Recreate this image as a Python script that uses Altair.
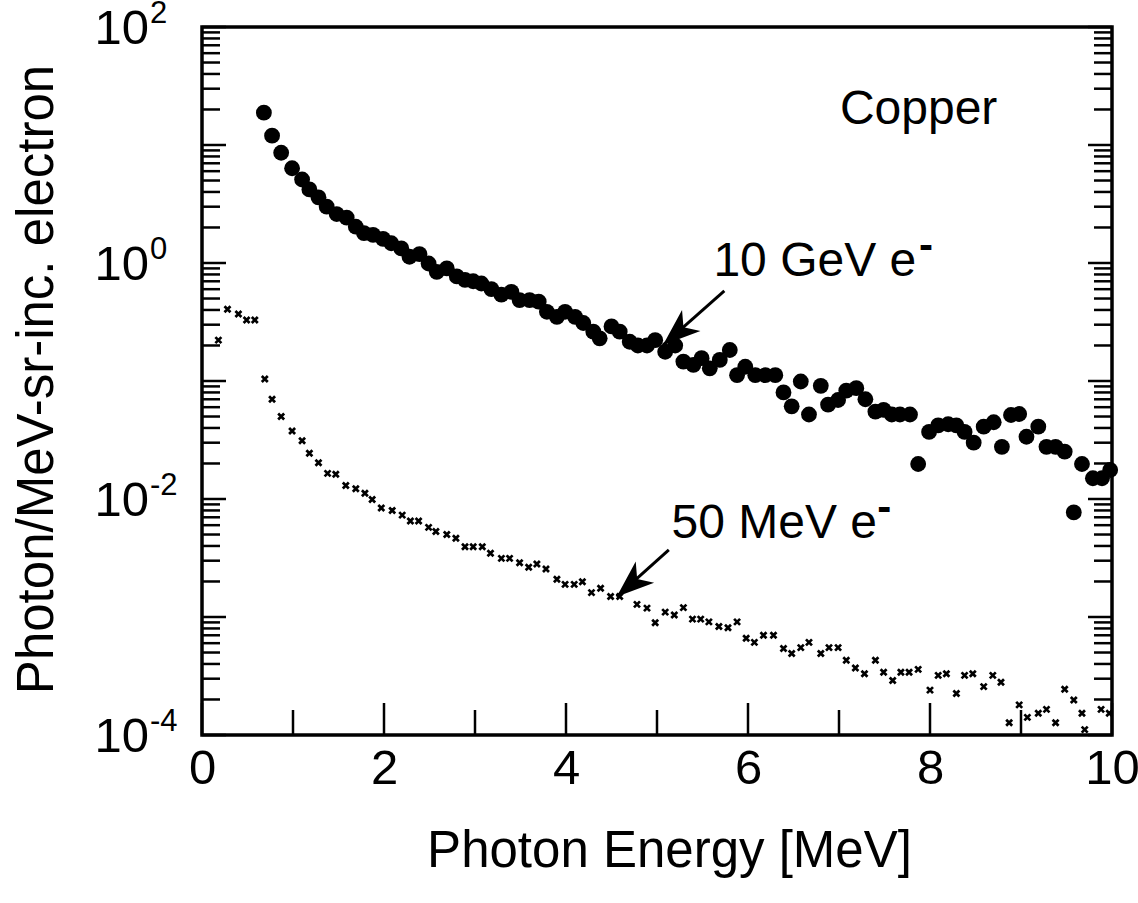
import altair as alt
import pandas as pd

# ---------------- data ----------------
e10_x = [0.68, 0.77, 0.87, 0.99, 1.10, 1.18, 1.28, 1.37, 1.48, 1.59, 1.69, 1.78, 1.88, 1.99,
         2.08, 2.19, 2.28, 2.39, 2.49, 2.58, 2.69, 2.80, 2.89, 2.98, 3.07, 3.18, 3.29, 3.40,
         3.49, 3.60, 3.70, 3.79, 3.90, 3.99, 4.10, 4.19, 4.30, 4.37, 4.50, 4.59, 4.70, 4.79,
         4.89, 4.98, 5.09, 5.20, 5.29, 5.40, 5.49, 5.58, 5.69, 5.80, 5.88, 5.97, 6.08, 6.19,
         6.30, 6.39, 6.48, 6.58, 6.67, 6.80, 6.88, 6.99, 7.08, 7.19, 7.29, 7.40, 7.49, 7.58,
         7.67, 7.78, 7.87, 7.99, 8.09, 8.20, 8.29, 8.38, 8.48, 8.59, 8.70, 8.79, 8.89, 8.98,
         9.06, 9.19, 9.28, 9.38, 9.48, 9.58, 9.67, 9.79, 9.89, 9.98]
e10_y = [18.8, 12.0, 8.6, 6.35, 5.1, 4.2, 3.6, 3.0, 2.6, 2.42, 2.03, 1.79, 1.73, 1.60,
         1.47, 1.33, 1.13, 1.19, 0.99, 0.84, 0.90, 0.77, 0.72, 0.70, 0.67, 0.60, 0.54, 0.57,
         0.485, 0.485, 0.47, 0.386, 0.35, 0.386, 0.35, 0.31, 0.262, 0.23, 0.29, 0.262, 0.215, 0.20,
         0.20, 0.222, 0.177, 0.20, 0.146, 0.137, 0.156, 0.128, 0.151, 0.183, 0.112, 0.132, 0.112, 0.112,
         0.112, 0.080, 0.061, 0.099, 0.052, 0.091, 0.063, 0.069, 0.083, 0.087, 0.070, 0.055, 0.057, 0.052,
         0.052, 0.052, 0.0198, 0.037, 0.042, 0.043, 0.042, 0.037, 0.030, 0.041, 0.0447, 0.0277, 0.0515, 0.0525,
         0.0337, 0.041, 0.0277, 0.0277, 0.0252, 0.0077, 0.0198, 0.015, 0.015, 0.0176]

e50_x = [0.18, 0.28, 0.40, 0.49, 0.58, 0.69, 0.77, 0.87, 0.99, 1.10, 1.18, 1.28, 1.38, 1.47,
         1.58, 1.69, 1.79, 1.87, 1.97, 2.09, 2.20, 2.29, 2.38, 2.49, 2.57, 2.69, 2.79, 2.89,
         2.98, 3.08, 3.17, 3.29, 3.38, 3.49, 3.59, 3.68, 3.78, 3.90, 3.99, 4.09, 4.18, 4.28,
         4.38, 4.49, 4.59, 4.78, 4.89, 4.98, 5.09, 5.19, 5.29, 5.39, 5.48, 5.57, 5.68, 5.78,
         5.88, 5.98, 6.07, 6.17, 6.28, 6.39, 6.48, 6.58, 6.67, 6.80, 6.89, 6.99, 7.08, 7.18,
         7.28, 7.40, 7.49, 7.59, 7.68, 7.77, 7.87, 8.00, 8.09, 8.18, 8.29, 8.38, 8.47, 8.59,
         8.69, 8.78, 8.87, 8.98, 9.07, 9.19, 9.28, 9.38, 9.48, 9.58, 9.67, 9.70, 9.88, 9.97]
e50_y = [0.222, 0.405, 0.37, 0.329, 0.329, 0.104, 0.070, 0.050, 0.0377, 0.0312, 0.0244, 0.0203, 0.0165, 0.0162,
         0.0130, 0.0122, 0.0112, 0.0099, 0.0084, 0.0080, 0.0073, 0.0065, 0.0065, 0.00575, 0.0053, 0.0050, 0.00465, 0.00394,
         0.00394, 0.00394, 0.00347, 0.00314, 0.00314, 0.00288, 0.00264, 0.00281, 0.00255, 0.00209, 0.00189, 0.00189, 0.00199, 0.00161,
         0.00175, 0.00149, 0.00149, 0.00128, 0.00119, 0.000895, 0.0011, 0.00104, 0.0012, 0.00096, 0.00096, 0.00091, 0.00083, 0.00081,
         0.00091, 0.00066, 0.00061, 0.0007, 0.0007, 0.00054, 0.00049, 0.00055, 0.00061, 0.00049, 0.00055, 0.00055, 0.00043, 0.00037,
         0.00033, 0.00043, 0.00034, 0.00029, 0.00034, 0.00034, 0.00036, 0.00024, 0.00032, 0.00033, 0.000225, 0.00032, 0.00033, 0.000257,
         0.00032, 0.00028, 0.000127, 0.00018, 0.000141, 0.000153, 0.000165, 0.000127, 0.000244, 0.000198, 0.000153, 0.000111, 0.000165, 0.000153]

# axis ticks
x_major = [0, 2, 4, 6, 8, 10]
x_minor = [1, 3, 5, 7, 9]
y_decades = [1e-4, 1e-3, 1e-2, 1e-1, 1, 10, 100]
y_minor_mult = [2, 3, 4, 5, 6, 7, 8, 9]
y_label_vals = [100, 1, 0.01, 0.0001]
y_label_exp = ["2", "0", "-2", "-4"]

# annotations
ann_text = ["Copper", "10 GeV e", "50 MeV e"]
ann_x = [7.01, 5.62, 5.16]
ann_y = [19.8, 1.02, 0.00614]
sup_text = ["-", "-"]
sup_x = [7.88, 7.42]
sup_y = [1.40, 0.0084]
arrow_x = [5.74, 5.13]
arrow_y = [0.58, 0.0037]
arrow_x2 = [5.066, 4.557]
arrow_y2 = [0.2018, 0.001486]

# ---------------- chart ----------------
W, H = 910, 708
FONT = "Liberation Sans"
FS_TICK = 49
FS_TITLE = 51
FS_ANN = 48

df10 = pd.DataFrame({"x": e10_x, "y": e10_y})
df50 = pd.DataFrame({"x": e50_x, "y": e50_y})
y_minor_vals = [d * m for d in y_decades[:-1] for m in y_minor_mult]
df_ymaj = pd.DataFrame({"v": y_decades})
df_ymin = pd.DataFrame({"v": y_minor_vals})
df_xmaj = pd.DataFrame({"v": x_major})
df_xmin = pd.DataFrame({"v": x_minor})
df_ylab = pd.DataFrame({"v": y_label_vals, "e": y_label_exp})
df_ann = pd.DataFrame({"x": ann_x, "y": ann_y, "t": ann_text})
df_sup = pd.DataFrame({"x": sup_x, "y": sup_y, "t": sup_text})
df_arr = pd.DataFrame({"x": arrow_x, "y": arrow_y, "x2": arrow_x2, "y2": arrow_y2})

xs = alt.Scale(domain=[0, 10], nice=False, zero=False)
ys = alt.Scale(type="log", domain=[1e-4, 100], nice=False)

x_axis = alt.Axis(values=x_major, format="d", ticks=False, domain=False, grid=False,
                  labelFontSize=FS_TICK, labelFont=FONT, labelColor="black", labelPadding=9,
                  labelFlush=False, labelOverlap=False,
                  title="Photon Energy [MeV]", titleFontSize=FS_TITLE, titleFont=FONT,
                  titleFontWeight="normal", titleColor="black",
                  titleX=W / 2 + 12, titleY=116, titleBaseline="middle", titleAlign="center")
y_axis = alt.Axis(labels=False, ticks=False, domain=False, grid=False,
                  title="Photon/MeV-sr-inc. electron", titleFontSize=FS_TITLE, titleFont=FONT,
                  titleFontWeight="normal", titleColor="black",
                  titleX=-165, titleY=H / 2 - 2, titleAngle=270, titleBaseline="middle",
                  titleAlign="center")

pts10 = alt.Chart(df10).mark_point(filled=True, shape="circle", size=250, color="black",
                                   opacity=1).encode(
    x=alt.X("x:Q", scale=xs, axis=x_axis),
    y=alt.Y("y:Q", scale=ys, axis=y_axis),
)

xshape = "M-1,-1L1,1M-1,1L1,-1"
pts50 = alt.Chart(df50).mark_point(shape=xshape, filled=False, size=36, color="black",
                                   strokeWidth=2.7, opacity=1).encode(
    x=alt.X("x:Q", scale=xs),
    y=alt.Y("y:Q", scale=ys),
)

def yticks(df, x0, x1):
    return alt.Chart(df).mark_rule(color="black", strokeWidth=2.5).encode(
        y=alt.Y("v:Q", scale=ys), x=alt.value(x0), x2=alt.value(x1))

def xticks(df, length):
    return alt.Chart(df).mark_rule(color="black", strokeWidth=2.5).encode(
        x=alt.X("v:Q", scale=xs), y=alt.value(H), y2=alt.value(H - length))

ticks = [
    yticks(df_ymaj, 0, 24), yticks(df_ymin, 0, 18),
    yticks(df_ymaj, W, W - 24), yticks(df_ymin, W, W - 18),
    xticks(df_xmaj, 32), xticks(df_xmin, 25),
]

ylab_base = alt.Chart(df_ylab).mark_text(align="right", baseline="middle", fontSize=FS_TICK,
                                         font=FONT, color="black", dy=2).encode(
    y=alt.Y("v:Q", scale=ys), x=alt.value(-53), text=alt.value("10"))
ylab_exp = alt.Chart(df_ylab).mark_text(align="left", baseline="middle", fontSize=31,
                                        font=FONT, color="black", dy=-13, dx=1).encode(
    y=alt.Y("v:Q", scale=ys), x=alt.value(-53), text="e:N")

ann = alt.Chart(df_ann).mark_text(align="left", baseline="middle", fontSize=FS_ANN, font=FONT,
                                  color="black").encode(
    x=alt.X("x:Q", scale=xs), y=alt.Y("y:Q", scale=ys), text="t:N")
sup = alt.Chart(df_sup).mark_text(align="left", baseline="middle", fontSize=42, font=FONT,
                                  fontWeight="bold", color="black").encode(
    x=alt.X("x:Q", scale=xs), y=alt.Y("y:Q", scale=ys), text="t:N")

arr_line = alt.Chart(df_arr).mark_rule(color="black", strokeWidth=3).encode(
    x=alt.X("x:Q", scale=xs), y=alt.Y("y:Q", scale=ys),
    x2="x2:Q", y2="y2:Q")
head_shape = "M0,0L-0.75,2L0,1.45L0.75,2Z"
arr_head = alt.Chart(df_arr).mark_point(shape=head_shape, filled=True, size=1400,
                                        color="black", opacity=1, angle=229).encode(
    x=alt.X("x2:Q", scale=xs), y=alt.Y("y2:Q", scale=ys))

chart = alt.layer(
    pts10, pts50, *ticks, ylab_base, ylab_exp, ann, sup, arr_line, arr_head
).properties(
    width=W, height=H,
    autosize=alt.AutoSizeParams(type="none"),
    padding={"left": 202, "top": 27, "right": 26, "bottom": 168},
    background="white",
).configure(font=FONT).configure_view(stroke="black", strokeWidth=3.5)

chart.save("out.html", embed_options={"renderer": "svg", "actions": False})
